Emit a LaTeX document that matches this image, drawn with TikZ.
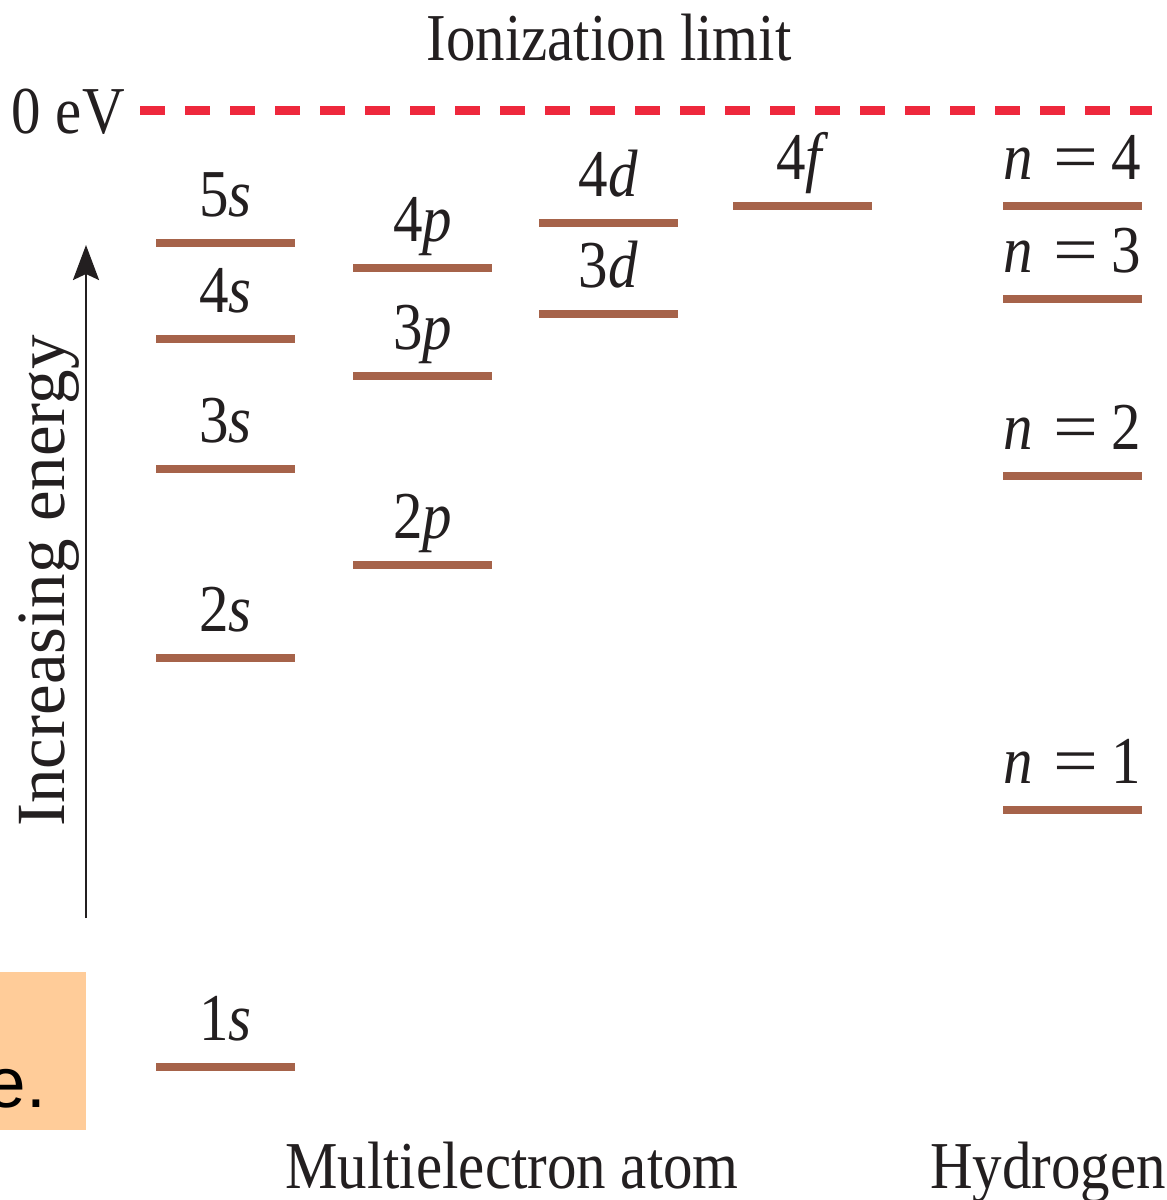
\documentclass[tikz,border=0pt]{standalone}
\usepackage{graphicx}
\usepackage{fontspec}
\setmainfont{Liberation Serif}[FakeStretch=0.88]
\newfontfamily\wideserif{Liberation Serif}
\newfontfamily\sansf{Liberation Sans}
\usetikzlibrary{arrows.meta}
\definecolor{lvlc}{RGB}{166,99,74}
\definecolor{redc}{RGB}{238,40,60}
\definecolor{orangec}{RGB}{255,204,153}
\definecolor{txt}{RGB}{35,31,32}
\newcommand\lev[4]{%
  \draw[lvl] (#1,#2) -- ++(139,0);
  \node[lab] (#4) at ({#1+69.5},{#2-27}) {#3};}
\newcommand\nlabel[1]{\textit{n}\hspace{20pt}\scalebox{1.35}[1]{=}\hspace{14pt}#1}
\begin{document}
\begin{tikzpicture}[x=1pt,y=-1pt,
  lvl/.style={draw=lvlc, line width=8pt},
  lab/.style={anchor=base, inner sep=0pt, text=txt, font=\fontsize{67}{80}\selectfont},
  limitline/.style={draw=redc, line width=9pt, dash pattern=on 25pt off 20pt},
  energyarrow/.style={draw=txt, line width=2.5pt, -{Stealth[length=35pt,width=26pt,inset=6pt]}}
]
\useasboundingbox (0,0) rectangle (1167,1200);

% orange box fragment
\fill[orangec] (0,972) rectangle (86,1130);
\node[anchor=base east, inner sep=0pt, font=\sansf\fontsize{71}{80}\selectfont] (efrag) at (46,1107) {e.};

% ionization limit
\node[lab] (ion) at (609,60) {Ionization limit};
\node[lab, anchor=base east] (zero) at (125,133) {0 eV};
\coordinate (dl) at (140,110);
\coordinate (dr) at (1152,110);
\draw[limitline] (dl) -- (dr);

% energy arrow
\coordinate (abot) at (86,918);
\coordinate (atop) at (86,245);
\draw[energyarrow] (abot) -- (atop);
\node[lab, rotate=90, font=\wideserif\fontsize{69}{80}\selectfont] (incr) at (64,581) {Increasing energy};

% s levels
\lev{156}{243}{5\textit{s}}{l5s}
\lev{156}{339}{4\textit{s}}{l4s}
\lev{156}{469}{3\textit{s}}{l3s}
\lev{156}{658}{2\textit{s}}{l2s}
\lev{156}{1067}{1\textit{s}}{l1s}
% p levels
\lev{353}{268}{4\textit{p}}{l4p}
\lev{353}{376}{3\textit{p}}{l3p}
\lev{353}{565}{2\textit{p}}{l2p}
% d levels
\lev{539}{223}{4\textit{d}}{l4d}
\lev{539}{314}{3\textit{d}}{l3d}
% f level
\lev{733}{206}{4\textit{f}}{l4f}
% hydrogen
\lev{1003}{206}{\nlabel{4}}{hn4}
\lev{1003}{299}{\nlabel{3}}{hn3}
\lev{1003}{476}{\nlabel{2}}{hn2}
\lev{1003}{810}{\nlabel{1}}{hn1}

% bottom titles
\node[lab] (multi) at (512,1188) {Multielectron atom};
\node[lab, anchor=base west] (hyd) at (930,1188) {Hydrogen};
\end{tikzpicture}
\end{document}
